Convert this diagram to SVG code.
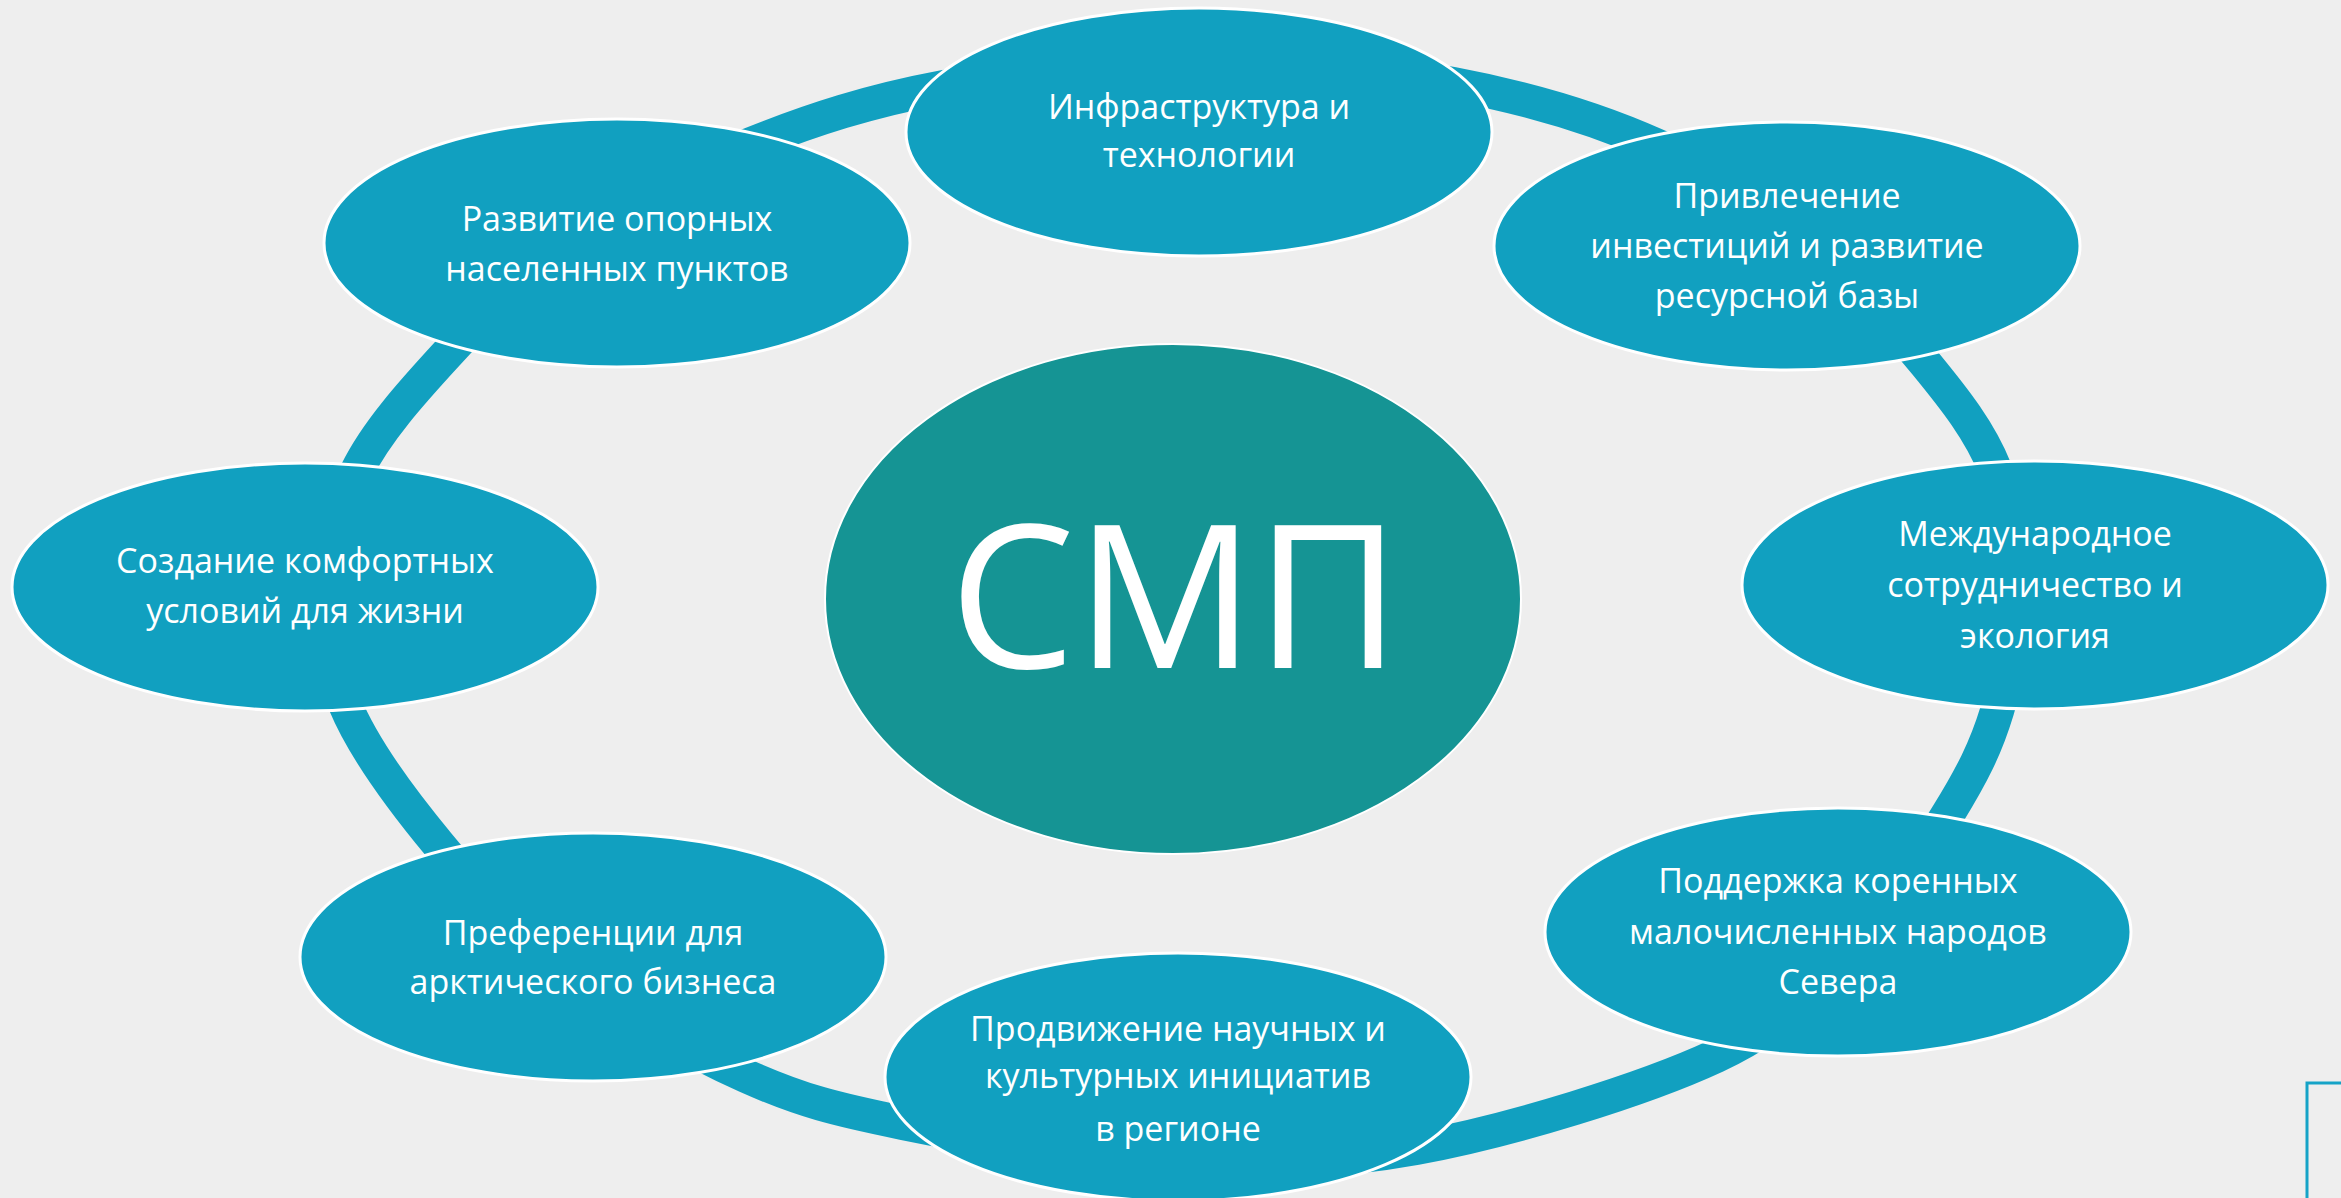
<svg xmlns="http://www.w3.org/2000/svg" width="2341" height="1198" viewBox="0 0 2341 1198">
<style>
.bg{fill:#EEEEEE}
.ring{fill:none;stroke:#11A0C0;stroke-width:34}
.node{fill:#11A0C0;stroke:#FFFFFF;stroke-width:3}
.core{fill:#159494;stroke:#FFFFFF;stroke-width:2}
.t{font-family:"Open Sans","Noto Sans","DejaVu Sans",sans-serif;font-size:34px;fill:#FFFFFF;text-anchor:middle}
.big{font-family:"Open Sans","Noto Sans","DejaVu Sans",sans-serif;font-size:200px;fill:#FFFFFF;text-anchor:middle}
.frame{fill:none;stroke:#15A3C7;stroke-width:3}
</style>
<rect class="bg" x="0" y="0" width="2341" height="1198"/>
<g id="connectors">
<path class="ring" d="M 751 144 C 812.5 119.5 869.2 101 944 87 C 1018.8 73 1115.2 60.5 1200 60 C 1284.8 59.5 1376.7 69.7 1453 84 C 1529.3 98.3 1598.5 119.3 1658 146 C 1717.5 172.7 1765.5 207.8 1810 244 C 1854.5 280.2 1894.2 325.5 1925 363 C 1955.8 400.5 1979.8 431.2 1995 469 C 2010.2 506.8 2015.7 549.7 2016 590 C 2016.3 630.3 2008.3 673.7 1997 711 C 1985.7 748.3 1972 775 1948 814 C 1924 853 1891.7 904.7 1853 945 C 1814.3 985.3 1788.8 1022.2 1716 1056 C 1643.2 1089.8 1510.3 1130.8 1416 1148 C 1321.7 1165.2 1241 1165 1150 1159 C 1060 1153 970.3 1136.8 903 1123 C 835.7 1109.2 801.8 1101 746 1076 C 690.2 1051 619.5 1010.5 568 973 C 516.5 935.5 476.2 889.8 439 845 C 401.8 800.2 362.7 747 345 704 C 327.3 661 331 625.8 333 587 C 335 548.2 338 509.8 357 471 C 376 432.2 410.7 393.5 447 354 C 483.3 314.5 524.3 269 575 234 C 625.7 199 689.5 168.5 751 144 Z"/>
</g>
<g id="node-center">
<ellipse class="core" cx="1173" cy="599" rx="348" ry="255"/>
<text class="big" x="1175" y="668">СМП</text>
</g>
<g id="node-1">
<ellipse class="node" cx="1199" cy="132" rx="293" ry="124"/>
<text class="t" x="1199" y="119">Инфраструктура и</text>
<text class="t" x="1199" y="167">технологии</text>
</g>
<g id="node-2">
<ellipse class="node" cx="1787" cy="246" rx="293" ry="124"/>
<text class="t" x="1787" y="208">Привлечение</text>
<text class="t" x="1787" y="258">инвестиций и развитие</text>
<text class="t" x="1787" y="308">ресурсной базы</text>
</g>
<g id="node-3">
<ellipse class="node" cx="2035" cy="585" rx="293" ry="124"/>
<text class="t" x="2035" y="546">Международное</text>
<text class="t" x="2035" y="597">сотрудничество и</text>
<text class="t" x="2035" y="648">экология</text>
</g>
<g id="node-4">
<ellipse class="node" cx="1838" cy="932" rx="293" ry="124"/>
<text class="t" x="1838" y="893">Поддержка коренных</text>
<text class="t" x="1838" y="944">малочисленных народов</text>
<text class="t" x="1838" y="994">Севера</text>
</g>
<g id="node-5">
<ellipse class="node" cx="1178" cy="1077" rx="293" ry="124"/>
<text class="t" x="1178" y="1041">Продвижение научных и</text>
<text class="t" x="1178" y="1088">культурных инициатив</text>
<text class="t" x="1178" y="1141">в регионе</text>
</g>
<g id="node-6">
<ellipse class="node" cx="593" cy="957" rx="293" ry="124"/>
<text class="t" x="593" y="945">Преференции для</text>
<text class="t" x="593" y="994">арктического бизнеса</text>
</g>
<g id="node-7">
<ellipse class="node" cx="305" cy="587" rx="293" ry="124"/>
<text class="t" x="305" y="573">Создание комфортных</text>
<text class="t" x="305" y="623">условий для жизни</text>
</g>
<g id="node-8">
<ellipse class="node" cx="617" cy="243" rx="293" ry="124"/>
<text class="t" x="617" y="231">Развитие опорных</text>
<text class="t" x="617" y="281">населенных пунктов</text>
</g>
<rect class="frame" x="2307" y="1083" width="120" height="200"/>
</svg>
